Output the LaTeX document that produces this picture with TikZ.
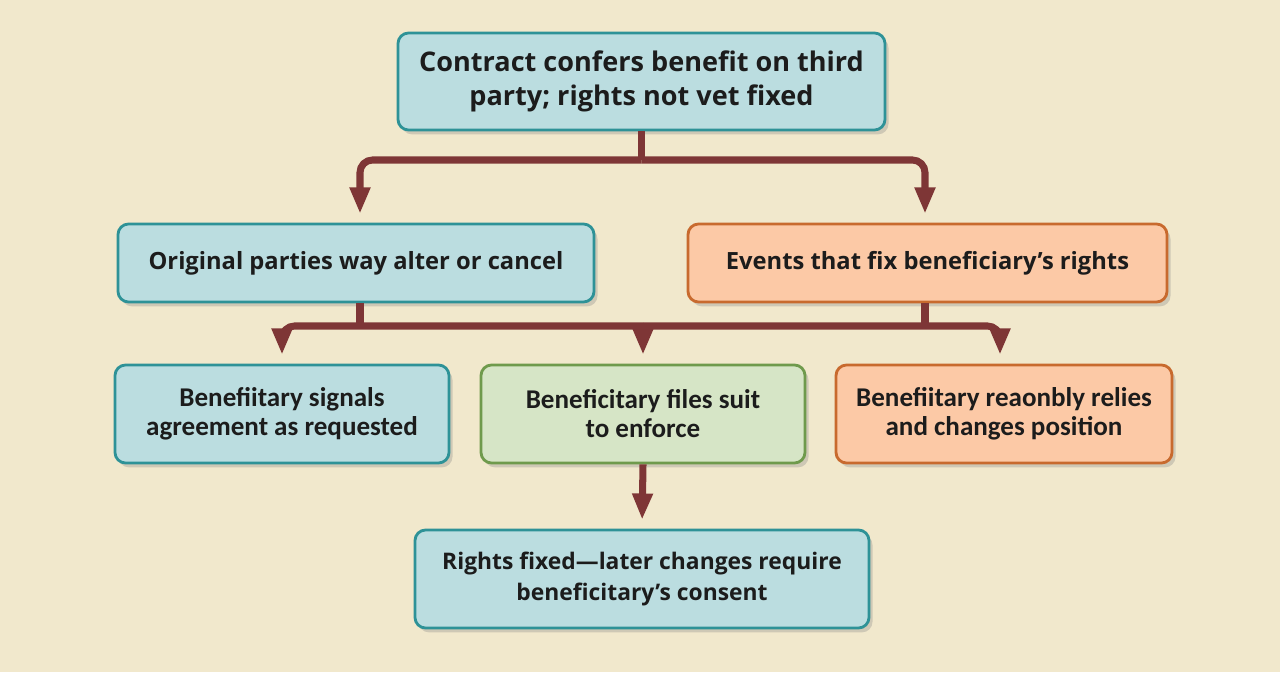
\documentclass[tikz,border=0pt]{standalone}
\usepackage{fontspec}
\setmainfont{Open Sans}
\newfontfamily\narrowfont{Carlito}
\usetikzlibrary{arrows.meta,shadows}

\definecolor{bgpaper}{HTML}{F1E8CC}
\definecolor{tealfill}{HTML}{BBDDE0}
\definecolor{tealline}{HTML}{2E9297}
\definecolor{orangefill}{HTML}{FCC9A6}
\definecolor{orangeline}{HTML}{C86A2E}
\definecolor{greenfill}{HTML}{D6E5C6}
\definecolor{greenline}{HTML}{6F9A4C}
\definecolor{linkred}{HTML}{7E3636}
\definecolor{inktext}{HTML}{1C1C1C}

\tikzset{
  box/.style={rounded corners=6pt, line width=1.6pt, align=center,
    text=inktext, inner sep=0pt,
    drop shadow={opacity=0.3, shadow xshift=2pt, shadow yshift=-2.5pt}},
  tealbox/.style={box, fill=tealfill, draw=tealline},
  orangebox/.style={box, fill=orangefill, draw=orangeline},
  greenbox/.style={box, fill=greenfill, draw=greenline},
  link/.style={draw=linkred, line width=4pt, rounded corners=0.25cm},
  arrow/.style={link, -{Triangle[width=11pt,length=15pt]}, shorten >=5pt}
}

\begin{document}
\begin{tikzpicture}
  \useasboundingbox[fill=bgpaper] (0,0) rectangle (25.6,13.44);

  %boxes
  \node[tealbox, minimum width=9.74cm, minimum height=1.94cm,
    font=\fontsize{15.4}{19}\selectfont\bfseries] (top) at (12.83,11.81)
    {Contract confers benefit on third\\party; rights not vet fixed};
  \node[tealbox, minimum width=9.52cm, minimum height=1.56cm,
    font=\fontsize{13.5}{18}\selectfont\bfseries] (alter) at (7.12,8.18)
    {Original parties way alter or cancel};
  \node[orangebox, minimum width=9.58cm, minimum height=1.56cm,
    font=\fontsize{13.5}{18}\selectfont\bfseries] (events) at (18.55,8.18)
    {Events that fix beneficiary’s rights};
  \node[tealbox, minimum width=6.68cm, minimum height=1.96cm,
    font=\narrowfont\bfseries\fontsize{15.4}{16.5}\selectfont] (signals) at (5.64,5.16)
    {Benefiitary signals\\agreement as requested};
  \node[greenbox, minimum width=6.48cm, minimum height=1.96cm,
    font=\narrowfont\bfseries\fontsize{15.4}{16.5}\selectfont] (suit) at (12.86,5.16)
    {Beneficitary files suit\\to enforce};
  \node[orangebox, minimum width=6.72cm, minimum height=1.96cm,
    font=\narrowfont\bfseries\fontsize{15.4}{16.5}\selectfont] (relies) at (20.08,5.16)
    {Benefiitary reaonbly relies\\and changes position};
  \node[tealbox, minimum width=9.08cm, minimum height=1.96cm,
    font=\fontsize{13}{17.5}\selectfont\bfseries] (fixed) at (12.84,1.86)
    {Rights fixed—later changes require\\beneficitary’s consent};

  %connectors
  \coordinate (split1) at (12.83,10.24);
  \coordinate (split2) at (12.86,6.92);
  \draw[link] (top.south) -- (split1);
  \draw[arrow] (split1) -| ([xshift=0.08cm]alter.north);
  \draw[arrow] (split1) -| ([xshift=-0.05cm]events.north);
  \draw[link] ([xshift=0.08cm]alter.south) -- ([xshift=0.08cm]alter.south |- split2);
  \draw[link] ([xshift=-0.05cm]events.south) -- ([xshift=-0.05cm]events.south |- split2);
  \draw[arrow] (split2) -| (signals.north);
  \draw[arrow] (split2) -| ([xshift=-0.08cm]relies.north);
  \draw[arrow] (split2) -- (suit.north);
  \draw[arrow] (suit.south) -- (fixed.north);
\end{tikzpicture}
\end{document}
